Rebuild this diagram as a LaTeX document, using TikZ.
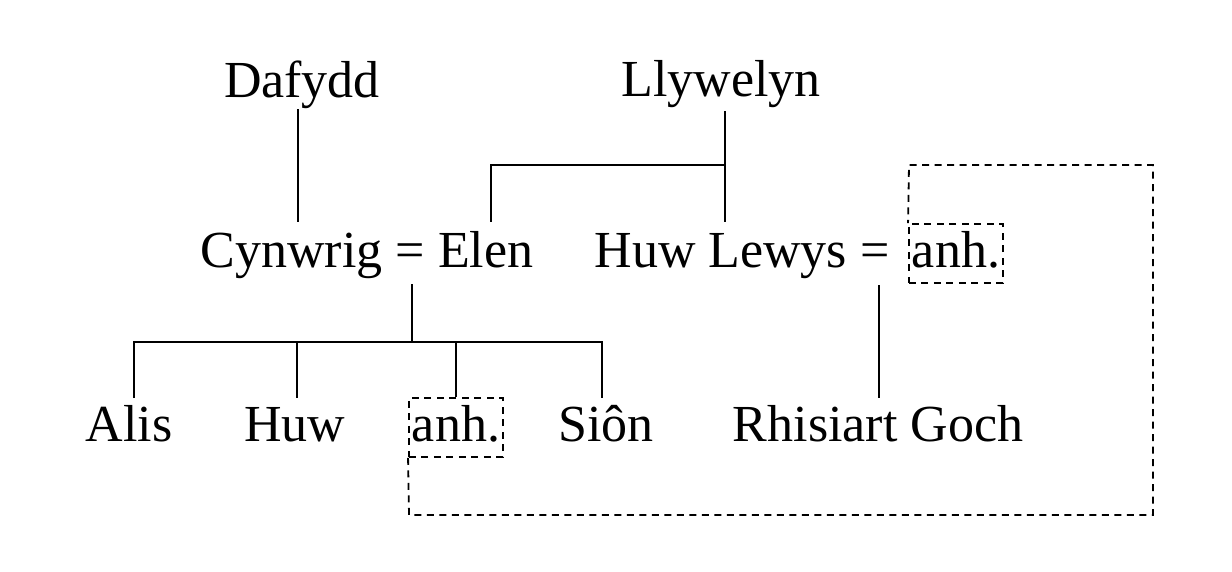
\documentclass[tikz,border=0pt]{standalone}
\usepackage{fontspec}
\setmainfont{Liberation Serif}
\begin{document}
\begin{tikzpicture}[x=1pt,y=-1pt,line width=2pt,
  lbl/.style={anchor=base,inner sep=0pt,font=\fontsize{52}{60}\selectfont},
  densedash/.style={dash pattern=on 7pt off 5.5pt,line width=1.8pt},
  anhbox/.style={lbl,draw,densedash,inner xsep=3pt,inner ysep=0pt,text height=43pt,text depth=16pt}]
\useasboundingbox (0,0) rectangle (1232,571);
% people
\node[lbl] (daf) at (302,97) {Dafydd};
\node[lbl] (lly) at (721,96) {Llywelyn};
\node[lbl] (cyn) at (367,267) {Cynwrig = Elen};
\node[lbl] (huwl) at (742,267) {Huw Lewys =};
\node[anhbox] (anh1) at (956,267) {anh.};
\node[lbl] (alis) at (129,441) {Alis};
\node[lbl] (huw) at (295,441) {Huw};
\node[anhbox] (anh2) at (456,441) {anh.};
\node[lbl] (sion) at (606,441) {Siôn};
\node[lbl] (rhis) at (878,441) {Rhisiart Goch};
% junction coordinates
\coordinate (dafB) at (298,109);
\coordinate (cynT) at (298,222);
\coordinate (llyB) at (725,111);
\coordinate (jL) at (725,165);
\coordinate (hlT) at (725,222);
\coordinate (elT) at (491,222);
\coordinate (elJ) at (491,165);
\coordinate (eqB) at (412,284);
\coordinate (kJ) at (412,342);
\coordinate (alJ) at (134,342);
\coordinate (alT) at (134,398);
\coordinate (huJ) at (297,342);
\coordinate (huT) at (297,398);
\coordinate (anJ) at (456,342);
\coordinate (siJ) at (602,342);
\coordinate (siT) at (602,398);
\coordinate (hlB) at (879,285);
\coordinate (rhT) at (879,398);
\coordinate (dBL) at (409,515);
\coordinate (dBR) at (1153,515);
\coordinate (dTR) at (1153,165);
\coordinate (dTL) at (909,165);
% lines
\draw (dafB) -- (cynT);
\draw (llyB) -- (hlT);
\draw (jL) -- (elJ) -- (elT);
\draw (eqB) -- (kJ);
\draw (alT) -- (alJ) -- (siJ) -- (siT);
\draw (huJ) -- (huT);
\draw (anJ) -- (anh2.north);
\draw (hlB) -- (rhT);
\draw[densedash] (anh2.south west) -- (dBL) -- (dBR) -- (dTR) -- (dTL) -- (anh1.north west);
\end{tikzpicture}
\end{document}
